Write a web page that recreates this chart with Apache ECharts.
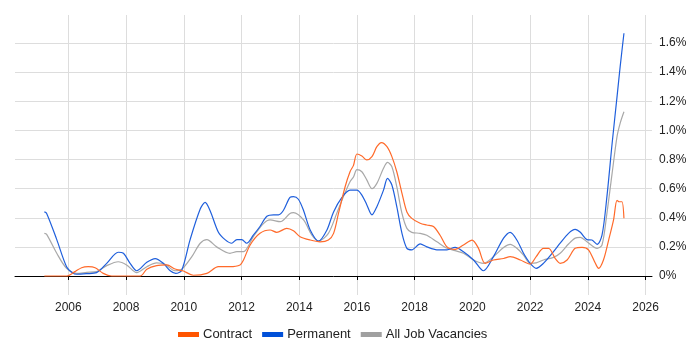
<!DOCTYPE html>
<html>
<head>
<meta charset="utf-8">
<script src="https://cdn.jsdelivr.net/npm/echarts@6/dist/echarts.min.js"></script>
<style>html,body{margin:0;padding:0;background:#fff}#c{width:700px;height:350px}</style>
</head>
<body>
<div id="c"></div>
<script>
var seriesNames = ['Contract', 'Permanent', 'All Job Vacancies'];
var xTicks = [2006, 2008, 2010, 2012, 2014, 2016, 2018, 2020, 2022, 2024, 2026];
var yTicks = [0, 0.2, 0.4, 0.6, 0.8, 1.0, 1.2, 1.4, 1.6];

var contractData = [
  [2005.17,0.0],[2005.6,0.0],[2005.94,0.0],[2006.23,0.03],[2006.46,0.057],[2006.69,0.064],[2006.93,0.057],
  [2007.21,0.018],[2007.5,0.0],[2008.0,0.0],[2008.49,0.0],[2008.72,0.046],[2009.06,0.071],[2009.41,0.076],
  [2009.7,0.048],[2009.99,0.034],[2010.33,0.005],[2010.8,0.018],[2011.2,0.064],[2011.6,0.064],[2011.95,0.076],
  [2012.07,0.11],[2012.3,0.213],[2012.64,0.293],[2012.99,0.316],[2013.22,0.30],[2013.57,0.327],[2013.8,0.31],
  [2014.03,0.27],[2014.38,0.247],[2014.72,0.235],[2015.01,0.247],[2015.19,0.293],[2015.36,0.43],[2015.59,0.613],
  [2015.76,0.716],[2015.88,0.76],[2016.0,0.838],[2016.17,0.824],[2016.34,0.797],[2016.52,0.82],[2016.69,0.888],
  [2016.85,0.916],[2017.04,0.888],[2017.21,0.82],[2017.38,0.716],[2017.56,0.568],[2017.73,0.44],[2017.9,0.396],
  [2018.19,0.362],[2018.42,0.35],[2018.65,0.34],[2018.88,0.28],[2019.12,0.20],[2019.4,0.183],[2019.69,0.213],
  [2019.99,0.247],[2020.21,0.19],[2020.44,0.087],[2020.73,0.11],[2021.08,0.12],[2021.31,0.133],[2021.66,0.11],
  [2022.0,0.082],[2022.21,0.133],[2022.46,0.19],[2022.64,0.19],[2022.87,0.12],[2023.04,0.087],[2023.28,0.11],
  [2023.56,0.19],[2023.8,0.197],[2024.02,0.18],[2024.26,0.087],[2024.37,0.053],[2024.54,0.11],[2024.72,0.247],
  [2024.89,0.385],[2025.01,0.52],[2025.09,0.51],[2025.18,0.51],[2025.25,0.396]
];

var permanentData = [
  [2005.17,0.44],[2005.25,0.43],[2005.6,0.25],[2005.94,0.064],[2006.17,0.018],[2006.29,0.012],[2006.64,0.016],
  [2006.98,0.023],[2007.33,0.087],[2007.73,0.163],[2007.91,0.156],[2008.14,0.087],[2008.37,0.036],[2008.72,0.094],
  [2009.01,0.12],[2009.29,0.087],[2009.53,0.036],[2009.72,0.018],[2009.93,0.04],[2010.22,0.25],[2010.57,0.46],
  [2010.74,0.506],[2010.91,0.45],[2011.2,0.30],[2011.43,0.25],[2011.66,0.225],[2011.84,0.25],[2012.01,0.25],
  [2012.18,0.225],[2012.41,0.28],[2012.64,0.34],[2012.88,0.41],[2013.11,0.42],[2013.28,0.42],[2013.45,0.45],
  [2013.68,0.54],[2013.8,0.545],[2013.97,0.527],[2014.15,0.45],[2014.38,0.316],[2014.67,0.24],[2014.96,0.316],
  [2015.19,0.44],[2015.48,0.54],[2015.76,0.59],[2016.0,0.59],[2016.17,0.556],[2016.34,0.49],[2016.52,0.42],
  [2016.69,0.476],[2016.92,0.59],[2017.06,0.67],[2017.21,0.625],[2017.38,0.476],[2017.56,0.293],[2017.73,0.19],
  [2017.9,0.18],[2018.19,0.22],[2018.42,0.20],[2018.77,0.18],[2019.12,0.18],[2019.4,0.197],[2019.69,0.167],
  [2020.04,0.11],[2020.38,0.036],[2020.73,0.133],[2021.08,0.26],[2021.31,0.30],[2021.54,0.247],[2021.77,0.156],
  [2022.0,0.087],[2022.21,0.053],[2022.46,0.087],[2022.81,0.167],[2023.04,0.225],[2023.33,0.293],[2023.56,0.32],
  [2023.74,0.30],[2023.97,0.25],[2024.14,0.247],[2024.32,0.217],[2024.49,0.28],[2024.66,0.545],[2024.84,0.91],
  [2025.01,1.23],[2025.12,1.44],[2025.25,1.667]
];

var allData = [
  [2005.17,0.293],[2005.25,0.286],[2005.6,0.156],[2005.94,0.053],[2006.29,0.018],[2006.64,0.025],[2006.98,0.03],
  [2007.33,0.071],[2007.73,0.098],[2008.02,0.076],[2008.37,0.023],[2008.72,0.064],[2009.06,0.09],[2009.35,0.08],
  [2009.7,0.036],[2009.93,0.046],[2010.28,0.133],[2010.57,0.225],[2010.8,0.25],[2011.14,0.20],[2011.6,0.156],
  [2011.84,0.167],[2012.07,0.167],[2012.41,0.27],[2012.76,0.36],[2012.99,0.385],[2013.34,0.373],[2013.68,0.43],
  [2013.8,0.435],[2014.15,0.385],[2014.44,0.28],[2014.67,0.24],[2015.01,0.293],[2015.3,0.43],[2015.53,0.545],
  [2015.76,0.648],[2015.88,0.68],[2016.0,0.73],[2016.17,0.716],[2016.34,0.66],[2016.52,0.60],[2016.69,0.636],
  [2016.92,0.74],[2017.06,0.78],[2017.21,0.75],[2017.38,0.613],[2017.56,0.43],[2017.73,0.327],[2017.9,0.30],
  [2018.19,0.293],[2018.42,0.28],[2018.77,0.235],[2019.12,0.19],[2019.4,0.174],[2019.69,0.156],[2020.04,0.11],
  [2020.38,0.087],[2020.73,0.133],[2021.08,0.195],[2021.31,0.217],[2021.54,0.19],[2021.77,0.144],[2022.0,0.087],
  [2022.21,0.09],[2022.46,0.11],[2022.81,0.128],[2023.04,0.156],[2023.33,0.22],[2023.56,0.26],[2023.74,0.265],
  [2023.97,0.235],[2024.32,0.19],[2024.49,0.213],[2024.66,0.43],[2024.84,0.705],[2025.01,0.957],[2025.12,1.05],
  [2025.25,1.128]
];

var colors = ['#ff6a2a', '#1f5fdc', '#a8a8a8'];
var legendColors = ['#ff5500', '#0050d8', '#a0a0a0'];

var chart = echarts.init(document.getElementById('c'), null, {renderer: 'canvas'});
var font = 'Liberation Sans, Arial, sans-serif';
var datasets = [contractData, permanentData, allData];
var series = seriesNames.map(function (n, i) {
  return {
    name: n, type: 'line', data: datasets[i], showSymbol: false, smooth: 0.3,
    lineStyle: {width: 1.2, color: colors[i]}, itemStyle: {color: legendColors[i]},
    z: 3 - i
  };
});

chart.setOption({
  animation: false,
  textStyle: {fontFamily: font},
  grid: {left: 15, right: 48, top: 15, bottom: 55, containLabel: false},
  legend: {
    top: 328, left: 178, padding: 0, itemWidth: 21, itemHeight: 5, itemGap: 10, icon: 'rect',
    textStyle: {fontSize: 13, color: '#222', fontFamily: font, padding: [0, 0, 0, -1]},
    data: seriesNames
  },
  xAxis: {
    type: 'value', min: 2004.153, max: 2026.222,
    axisLine: {show: true, lineStyle: {color: '#000', width: 1}},
    axisTick: {show: true, length: 4, lineStyle: {color: '#000'}, customValues: xTicks},
    axisLabel: {customValues: xTicks, fontSize: 12, color: '#222', margin: 7, formatter: function (v) { return String(v); }},
    splitLine: {show: true, lineStyle: {color: '#dddddd', width: 1}}
  },
  yAxis: {
    type: 'value', position: 'right', min: -0.1305, max: 1.7926,
    axisLine: {show: false}, axisTick: {show: false, customValues: yTicks},
    axisLabel: {customValues: yTicks, fontSize: 12, color: '#222', margin: 7,
      formatter: function (v) { return (Math.abs(v) < 1e-9 ? '0' : v.toFixed(1)) + '%'; }},
    splitLine: {show: true, lineStyle: {color: '#dddddd', width: 1}}
  },
  series: series
});
</script>
</body>
</html>
